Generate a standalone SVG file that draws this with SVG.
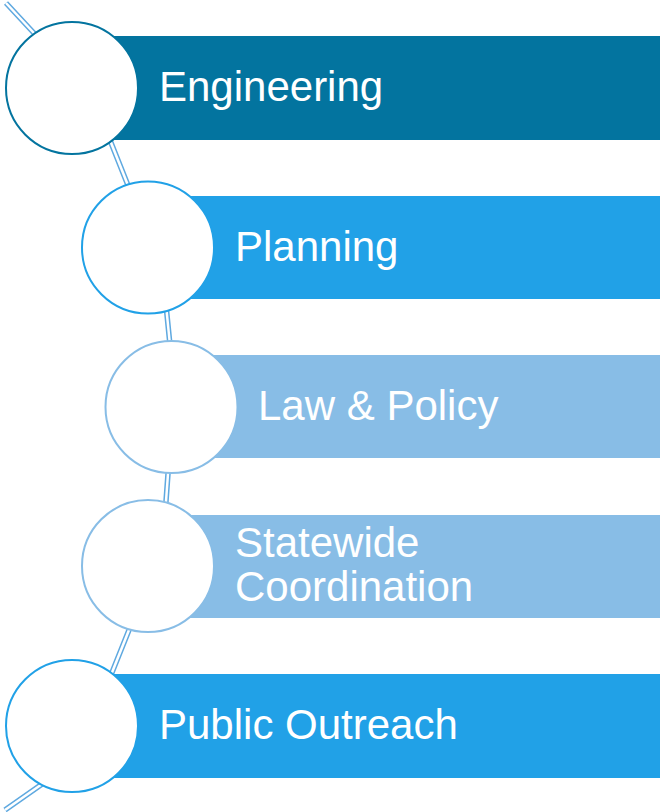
<svg xmlns="http://www.w3.org/2000/svg" width="663" height="812" viewBox="0 0 663 812">
<style>
.lbl{font-family:"Liberation Sans",Arial,sans-serif;font-size:42px;fill:#ffffff}
.ln1{fill:none;stroke:#5fa9e0;stroke-width:5.5;stroke-linecap:butt}
.ln2{fill:none;stroke:#ffffff;stroke-width:2.5;stroke-linecap:butt}
.c{fill:#ffffff;stroke-width:2}
</style>
<rect width="663" height="812" fill="#ffffff"/>
<g id="connectors">
<path class="ln1" d="M6,3 L45,45 M100,115 L135,203 M165,295 L171,355 M169,460 L165,515 M135,615 L105,690 M45,782 L5,810"/>
<path class="ln2" d="M6,3 L45,45 M100,115 L135,203 M165,295 L171,355 M169,460 L165,515 M135,615 L105,690 M45,782 L5,810"/>
</g>
<g id="engineering">
<rect x="72" y="36" width="588" height="104" fill="#03749f"/>
<circle class="c" cx="72" cy="88" r="66" stroke="#03749f"/>
<text class="lbl" x="159" y="101">Engineering</text>
</g>
<g id="planning">
<rect x="148" y="196" width="512" height="103" fill="#21a1e7"/>
<circle class="c" cx="148" cy="247.5" r="66" stroke="#21a1e7"/>
<text class="lbl" x="235" y="261">Planning</text>
</g>
<g id="law-policy">
<rect x="171" y="355" width="489" height="103" fill="#88bde6"/>
<circle class="c" cx="171.5" cy="407" r="66" stroke="#88bde6"/>
<text class="lbl" x="258" y="420">Law &amp; Policy</text>
</g>
<g id="statewide-coordination">
<rect x="148" y="515" width="512" height="103" fill="#88bde6"/>
<circle class="c" cx="148" cy="566" r="66" stroke="#88bde6"/>
<text class="lbl" x="235" y="557">Statewide</text>
<text class="lbl" x="235" y="601">Coordination</text>
</g>
<g id="public-outreach">
<rect x="72" y="674" width="588" height="104" fill="#21a1e7"/>
<circle class="c" cx="72" cy="726" r="66" stroke="#21a1e7"/>
<text class="lbl" x="159" y="739">Public Outreach</text>
</g>
</svg>
